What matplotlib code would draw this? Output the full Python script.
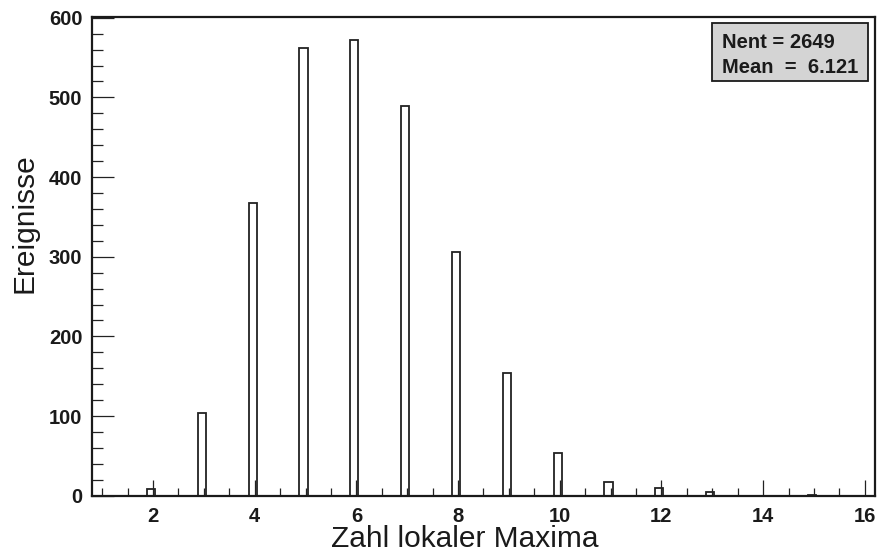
import matplotlib
matplotlib.use("Agg")
import matplotlib.pyplot as plt
from matplotlib.patches import Rectangle
from matplotlib.ticker import MultipleLocator

# Number of local maxima per event and the event counts in each bin
n_maxima = [2, 3, 4, 5, 6, 7, 8, 9, 10, 11, 12, 13, 15]
counts = [9, 104, 367, 562, 572, 489, 306, 154, 54, 17, 10, 4, 1]

x_label = "Zahl lokaler Maxima"
y_label = "Ereignisse"
stats_lines = ["Nent = 2649", "Mean  =  6.121"]

bin_offset = -0.12
bin_width = 0.16

plt.rcParams["font.family"] = ["Liberation Sans", "DejaVu Sans"]

fig = plt.figure(figsize=(8.79, 5.58), dpi=100)
ax = fig.add_axes([0.1047, 0.1117, 0.8907, 0.8573])

ax.bar([v + bin_offset for v in n_maxima], counts, width=bin_width, align="edge",
       facecolor="white", edgecolor="#222222", linewidth=1.3)

ax.set_xlim(0.8, 16.2)
ax.set_ylim(0, 1.05 * max(counts))

ax.xaxis.set_major_locator(MultipleLocator(2))
ax.xaxis.set_minor_locator(MultipleLocator(0.5))
ax.yaxis.set_major_locator(MultipleLocator(100))
ax.yaxis.set_minor_locator(MultipleLocator(20))

ax.tick_params(axis="x", which="major", direction="in", length=11.5, width=0.9,
               color="#222222", pad=8, labelsize=14.5)
ax.tick_params(axis="x", which="minor", direction="in", length=5.5, width=0.9,
               color="#222222")
ax.tick_params(axis="y", which="major", direction="in", length=16, width=0.9,
               color="#222222", pad=7, labelsize=14.5)
ax.tick_params(axis="y", which="minor", direction="in", length=8, width=0.9,
               color="#222222")
for lab in ax.get_xticklabels() + ax.get_yticklabels():
    lab.set_fontweight("bold")
    lab.set_color("#1a1a1a")

for side in ["left", "right", "top", "bottom"]:
    ax.spines[side].set_linewidth(1.6)
    ax.spines[side].set_color("#1a1a1a")

fig.text(0.5285, 0.0197, x_label, ha="center", va="baseline", fontsize=21.5,
         color="#1a1a1a")
fig.text(0.028, 0.600, y_label, ha="center", va="center", rotation=90,
         fontsize=21.5, color="#1a1a1a")

# Statistics box
fig.add_artist(Rectangle((0.810, 0.8548), 0.1775, 0.104, transform=fig.transFigure,
                         facecolor="#d4d4d4", edgecolor="#1a1a1a", linewidth=1.3))
fig.text(0.821, 0.9134, stats_lines[0], ha="left", va="baseline", fontsize=14.5,
         fontweight="bold", color="#1a1a1a")
fig.text(0.821, 0.8686, stats_lines[1], ha="left", va="baseline", fontsize=14.5,
         fontweight="bold", color="#1a1a1a")

fig.savefig("out.png", dpi=100)
